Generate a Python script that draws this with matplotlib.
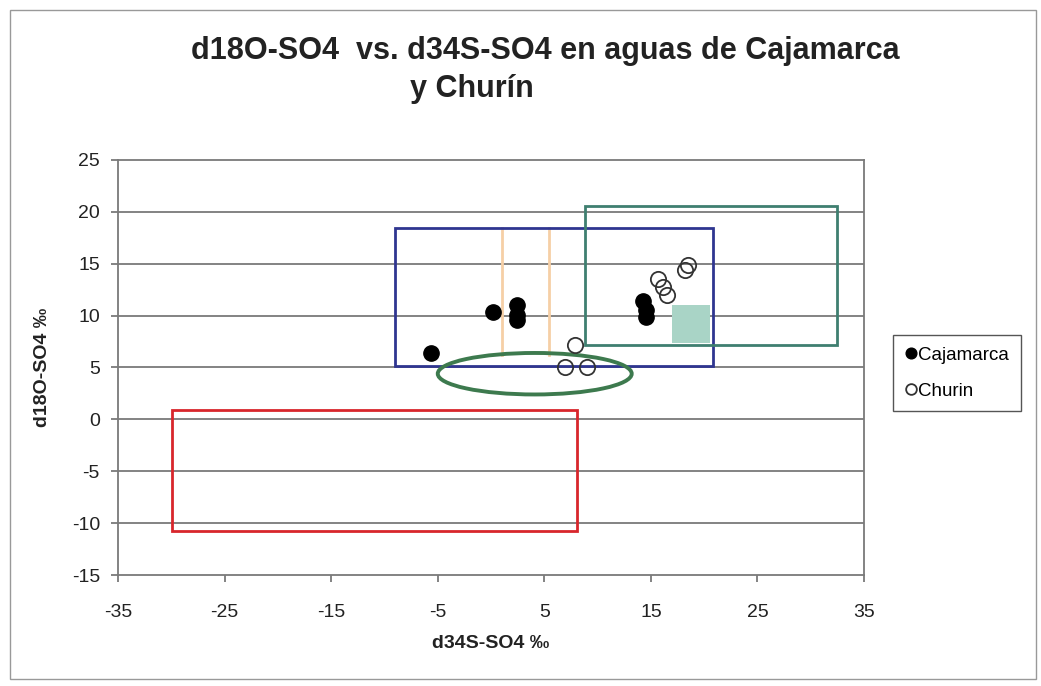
import matplotlib.pyplot as plt
from matplotlib.patches import Rectangle, Ellipse

plt.rcParams['font.family'] = ['Liberation Sans', 'DejaVu Sans']
plt.rcParams['axes.unicode_minus'] = False

# data
caja_x = [-5.6, 0.2, 2.4, 2.4, 2.4, 14.3, 14.5, 14.5]
caja_y = [6.4, 10.3, 11.0, 10.1, 9.6, 11.4, 10.5, 9.9]
churin_x = [7.9, 6.9, 9.0, 15.7, 16.1, 16.5, 18.2, 18.5]
churin_y = [7.2, 5.0, 5.0, 13.5, 12.8, 12.0, 14.4, 14.9]

# reference fields drawn on the chart: (x0, y0, x1, y1)
blue_box = (-9.0, 5.1, 20.8, 18.4)
green_box = (8.8, 7.2, 32.5, 20.6)
red_box = (-29.9, -10.8, 8.1, 0.9)
teal_box = (17.0, 7.4, 20.5, 11.0)
orange_x = [1.0, 5.4]
orange_y = (6.2, 18.4)
ellipse_c = (4.1, 4.4)
ellipse_wh = (18.2, 4.0)

fig = plt.figure(figsize=(10.41, 6.86), dpi=100)
ax = fig.add_axes([0.1134, 0.1618, 0.7166, 0.605])

grey = '#7a7a7a'
for y in range(-10, 25, 5):
    ax.axhline(y, color=grey, lw=1.3, zorder=0)

def box(b, color, lw=2.0, fill=False, z=2):
    x0, y0, x1, y1 = b
    ax.add_patch(Rectangle((x0, y0), x1 - x0, y1 - y0, fill=fill,
                           facecolor=color if fill else 'none',
                           edgecolor='none' if fill else color, lw=lw, zorder=z))

box(teal_box, '#a9d4c6', fill=True, z=1)
for x in orange_x:
    ax.plot([x, x], orange_y, color='#f6cfa6', lw=2, zorder=1)
box(blue_box, '#2f3590')
box(green_box, '#3f7f70')
box(red_box, '#d8262c')
ax.add_patch(Ellipse(ellipse_c, ellipse_wh[0], ellipse_wh[1], fill=False,
                     edgecolor='#3d7a4e', lw=2.8, zorder=2))

ax.plot(caja_x, caja_y, 'o', color='black', ms=11, ls='none', label='Cajamarca', zorder=4)
ax.plot(churin_x, churin_y, 'o', mfc='none', mec='#333333', mew=1.3, ms=11,
        ls='none', label='Churin', zorder=4)

ax.set_xlim(-35, 35)
ax.set_ylim(-15, 25)
ax.set_xticks(range(-35, 36, 10))
ax.set_yticks(range(-15, 26, 5))
ax.tick_params(direction='out', length=5, width=1.3, color=grey,
               labelsize=14, labelcolor='#222222')
ax.tick_params(axis='x', pad=16)
ax.tick_params(axis='y', pad=8)
for s in ax.spines.values():
    s.set_color(grey)
    s.set_linewidth(1.3)

ax.set_xlabel('d34S-SO4 ‰', fontsize=14, fontweight='bold', labelpad=10,
              color='#222222')
ax.set_ylabel('d18O-SO4 ‰', fontsize=14, fontweight='bold', labelpad=15,
              color='#222222')

fig.text(0.524, 0.925, 'd18O-SO4  vs. d34S-SO4 en aguas de Cajamarca',
         ha='center', va='center', fontsize=22, fontweight='bold', color='#222222')
fig.text(0.394, 0.870, 'y Churín', ha='left', va='center',
         fontsize=22, fontweight='bold', color='#222222')

leg = fig.legend(loc='center left', bbox_to_anchor=(0.858, 0.456), fontsize=13.5,
                 markerscale=0.7, handletextpad=0.05, handlelength=0.7,
                 borderpad=0.6, borderaxespad=0, labelspacing=1.0, fancybox=False,
                 edgecolor='#555555', framealpha=1)
leg.get_frame().set_linewidth(1.0)

fig.patches.append(Rectangle((0.01, 0.01), 0.985, 0.975, transform=fig.transFigure,
                             fill=False, edgecolor='#999999', lw=1))

fig.savefig('out.png', dpi=100)
